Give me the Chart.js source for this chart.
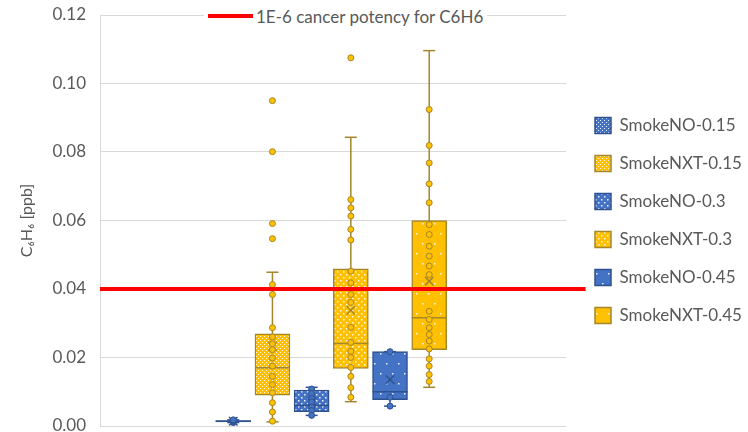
<!DOCTYPE html>
<html>
<head>
<meta charset="utf-8">
<script src="https://cdn.jsdelivr.net/npm/chart.js@4.4.1/dist/chart.umd.min.js"></script>
<style>
  html, body { margin: 0; padding: 0; background: #fff; }
  #wrap { position: relative; width: 748px; height: 432px; }
  #threshold-key {
    position: absolute; left: 204px; top: 5px; height: 22px; padding: 0 4px;
    background: #fff; display: flex; align-items: center;
    font: 17px Lato, sans-serif; color: #595959; white-space: nowrap;
  }
  #threshold-key .swatch { width: 45px; height: 4px; background: #ff0000; margin-right: 3px; }
</style>
</head>
<body>
<div id="wrap">
  <canvas id="chart" width="748" height="432"></canvas>
  <div id="threshold-key"><span class="swatch"></span><span id="threshold-label"></span></div>
</div>
<script>
// ---- data ----
const seriesNames = ["SmokeNO-0.15", "SmokeNXT-0.15", "SmokeNO-0.3", "SmokeNXT-0.3", "SmokeNO-0.45", "SmokeNXT-0.45"];
const seriesFamily = ["NO", "NXT", "NO", "NXT", "NO", "NXT"];
const seriesPattern = ["fine", "fine", "medium", "medium", "sparse", "sparse"];

const whiskerLow  = [0.0010, 0.0012, 0.0031, 0.0071, 0.0058, 0.0113];
const quartile1   = [0.0012, 0.0090, 0.0042, 0.0168, 0.0077, 0.0223];
const medians     = [0.0014, 0.0170, 0.0060, 0.0241, 0.0100, 0.0316];
const quartile3   = [0.0016, 0.0269, 0.0105, 0.0459, 0.0217, 0.0600];
const whiskerHigh = [0.0018, 0.0449, 0.0113, 0.0843, 0.0217, 0.1096];
const means       = [0.0014, 0.0233, 0.0072, 0.0338, 0.0136, 0.0423];

const pointsNO015  = [0.0010, 0.0012, 0.0014, 0.0016, 0.0018];
const pointsNXT015 = [0.0950, 0.0801, 0.0591, 0.0547, 0.0413, 0.0384, 0.0287, 0.0260, 0.0240, 0.0223,
                      0.0199, 0.0175, 0.0145, 0.0121, 0.0097, 0.0068, 0.0041, 0.0014];
const pointsNO03   = [0.0108, 0.0095, 0.0080, 0.0070, 0.0055, 0.0045, 0.0031];
const pointsNXT03  = [0.1075, 0.0661, 0.0637, 0.0613, 0.0574, 0.0543, 0.0452, 0.0418, 0.0384, 0.0361,
                      0.0288, 0.0244, 0.0218, 0.0200, 0.0171, 0.0145, 0.0112, 0.0084];
const pointsNO045  = [0.0217, 0.0084, 0.0058];
const pointsNXT045 = [0.0924, 0.0819, 0.0768, 0.0707, 0.0652, 0.0588, 0.0559, 0.0525, 0.0496, 0.0467,
                      0.0442, 0.0335, 0.0311, 0.0287, 0.0267, 0.0248, 0.0225, 0.0196, 0.0175, 0.0150, 0.0130];
const seriesPoints = [pointsNO015, pointsNXT015, pointsNO03, pointsNXT03, pointsNO045, pointsNXT045];

const yMin = 0, yMax = 0.12, yStep = 0.02;
const thresholdValue = 0.04;
const thresholdLabel = "1E-6 cancer potency for C6H6";
const yTitle = "C\u2086H\u2086 [ppb]";

// ---- styling ----
const families = {
  NO:  { fill: "#4472C4", line: "#2F528F" },
  NXT: { fill: "#FFC000", line: "#A4862B" },
};
const textColor = "#595959";
const gridColor = "#D9D9D9";
const xMin = -2.4, xMax = 9.49; // box slots sit at 1..6

Chart.defaults.font.family = "Lato, 'Open Sans', sans-serif";
Chart.defaults.color = textColor;

// white-dot fills like the Excel pattern fills
function makePattern(base, kind) {
  const c = document.createElement("canvas");
  const g = c.getContext("2d");
  let dots;
  if (kind === "fine") {
    c.width = 4; c.height = 4;
    dots = [[0, 0, 1], [2, 2, 1]];
  } else if (kind === "medium") {
    c.width = 6; c.height = 6;
    dots = [[1, 1, 1.5], [4, 4, 1.5]];
  } else {
    c.width = 12; c.height = 20;
    dots = [[2, 3, 1.5], [8, 13, 1.5]];
  }
  g.fillStyle = base;
  g.fillRect(0, 0, c.width, c.height);
  g.fillStyle = "rgba(255,255,255,0.9)";
  dots.forEach(([x, y, s]) => g.fillRect(x, y, s, s));
  return g.createPattern(c, "repeat");
}

const datasets = [];

seriesNames.forEach((name, i) => {
  const fam = families[seriesFamily[i]];
  const x = i + 1;

  // the box
  datasets.push({
    type: "bar",
    label: name,
    data: [{ x, y: [quartile1[i], quartile3[i]] }],
    backgroundColor: makePattern(fam.fill, seriesPattern[i]),
    borderColor: fam.line,
    borderWidth: 1.5,
    borderSkipped: false,
    barThickness: 35,
    grouped: false,
    order: 6,
  });

  // whisker with caps
  datasets.push({
    type: "line",
    label: name + " whisker",
    data: [{ x, y: whiskerLow[i] }, { x, y: whiskerHigh[i] }],
    borderColor: fam.line,
    borderWidth: 1.5,
    pointStyle: "line",
    pointRadius: 6,
    pointBorderColor: fam.line,
    pointBorderWidth: 1.5,
    order: 7,
  });

  // median line and mean cross
  datasets.push({
    type: "line",
    label: name + " median/mean",
    data: [{ x, y: medians[i] }, { x, y: means[i] }],
    showLine: false,
    pointStyle: ["line", "crossRot"],
    pointRadius: [17.5, 6],
    pointBorderColor: fam.line,
    pointBorderWidth: 1.5,
    order: 4,
  });

  // individual data points
  datasets.push({
    type: "line",
    label: name + " points",
    data: seriesPoints[i].map((v) => ({ x, y: v })),
    showLine: false,
    pointStyle: "circle",
    pointRadius: 3,
    pointBackgroundColor: fam.fill,
    pointBorderColor: fam.line,
    pointBorderWidth: 1,
    order: 3,
  });
});

// threshold line, runs a little past the plot like the original
datasets.push({
  type: "line",
  label: thresholdLabel,
  data: [{ x: xMin, y: thresholdValue }, { x: xMax + 0.5, y: thresholdValue }],
  borderColor: "#FF0000",
  borderWidth: 4,
  pointRadius: 0,
  clip: false,
  order: 0,
});

document.getElementById("threshold-label").textContent = thresholdLabel;

new Chart(document.getElementById("chart"), {
  type: "bar",
  data: { datasets },
  options: {
    responsive: false,
    animation: false,
    layout: { autoPadding: false, padding: { top: 15, bottom: 6, left: 0, right: 0 } },
    scales: {
      x: {
        type: "linear",
        min: xMin,
        max: xMax,
        offset: false,
        ticks: { display: false },
        grid: { display: false, drawTicks: false },
        border: { display: false },
      },
      y: {
        min: yMin,
        max: yMax,
        beginAtZero: true,
        afterFit: (scale) => {
          scale.width = 100;
          // let the top/bottom labels hang over like Excel does
          scale.paddingTop = 0;
          scale.paddingBottom = 0;
        },
        ticks: {
          stepSize: yStep,
          padding: 14,
          color: textColor,
          font: { size: 17 },
          callback: (v) => v.toFixed(2),
        },
        grid: { color: gridColor, drawTicks: false },
        border: { display: true, color: gridColor },
        title: {
          display: true,
          text: yTitle,
          color: textColor,
          font: { size: 16 },
          padding: { top: 17, bottom: 0 },
        },
      },
      yRight: {
        position: "right",
        display: true,
        afterFit: (scale) => { scale.width = 8; },
        ticks: { display: false },
        grid: { display: false, drawTicks: false },
        border: { display: false },
      },
    },
    plugins: {
      legend: {
        position: "right",
        maxWidth: 174,
        labels: {
          boxWidth: 16,
          boxHeight: 16,
          padding: 21,
          color: textColor,
          font: { size: 17 },
          filter: (item, data) => data.datasets[item.datasetIndex].type === "bar",
        },
      },
      tooltip: { enabled: false },
    },
  },
});
</script>
</body>
</html>
